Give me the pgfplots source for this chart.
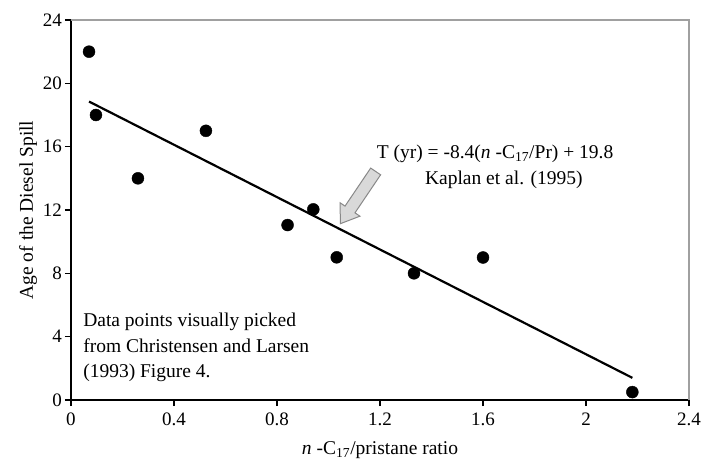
\documentclass[border=0pt]{standalone}
\usepackage{fontspec}
\setmainfont{Liberation Serif}
\usepackage{pgfplots}
\pgfplotsset{compat=1.18}
\usetikzlibrary{shapes.arrows}
\definecolor{framegray}{HTML}{A0A0A0}
\definecolor{arrowfill}{HTML}{D9D9D9}
\definecolor{arrowdraw}{HTML}{888888}
\begin{document}
\fontsize{19.5}{25.5}\selectfont
\begin{tikzpicture}
\useasboundingbox (-71pt,-61pt) rectangle (631pt,400pt);
\begin{axis}[
  scale only axis, width=618pt, height=380pt,
  xmin=0, xmax=2.4, ymin=0, ymax=24,
  xtick={0,0.4,0.8,1.2,1.6,2,2.4},
  ytick={0,4,8,12,16,20,24},
  axis x line*=bottom, axis y line*=left,
  axis line style={line width=1.8pt, -},
  tick align=outside, major tick length=6pt,
  tick style={line width=1.2pt, black},
  /pgf/number format/assume math mode=true,
  xticklabel style={font=\fontsize{19}{22}\selectfont},
  yticklabel style={font=\fontsize{19}{22}\selectfont, inner xsep=3pt},
  xlabel={\textit{n} -C\textsubscript{17}/pristane ratio},
  ylabel={Age of the Diesel Spill},
  xlabel style={at={([yshift=-50pt]axis description cs:0.5,0)}, anchor=center},
  ylabel style={at={([xshift=-43pt]axis description cs:0,0.5)}, anchor=center},
  clip=false,
]
\draw[framegray, line width=1.4pt] (rel axis cs:0,1) -- (rel axis cs:1,1) -- (rel axis cs:1,0);
\addplot[only marks, mark=*, mark size=6pt, black] coordinates {
  (0.07,22.0) (0.097,18.0) (0.26,14.0) (0.524,17.0) (0.841,11.05)
  (0.941,12.04) (1.032,9.01) (1.332,8.0) (1.60,9.0) (2.18,0.5)
};
\addplot[black, line width=2.2pt] coordinates {(0.07,18.85) (2.18,1.4)};
\node[single arrow, draw=arrowdraw, fill=arrowfill, line width=1pt,
      minimum height=63pt, inner sep=0pt, minimum width=0pt,
      text height=11pt, text depth=0pt, text width=0pt,
      single arrow head extend=6pt, single arrow tip angle=70,
      rotate=236, anchor=center] at (axis cs:1.124,13.01) {};
\node[anchor=center, inner sep=0pt] at (axis cs:1.647,15.54)
  {T (yr) = -8.4(\textit{n} -C\textsubscript{17}/Pr) + 19.8};
\node[anchor=center, inner sep=0pt] at (axis cs:1.681,13.89)
  {Kaplan et al. (1995)};
\node[anchor=north west, inner sep=0pt, align=left] at (axis cs:0.047,5.5)
  {Data points visually picked\\from Christensen and Larsen\\(1993) Figure 4.};
\end{axis}
\end{tikzpicture}
\end{document}
